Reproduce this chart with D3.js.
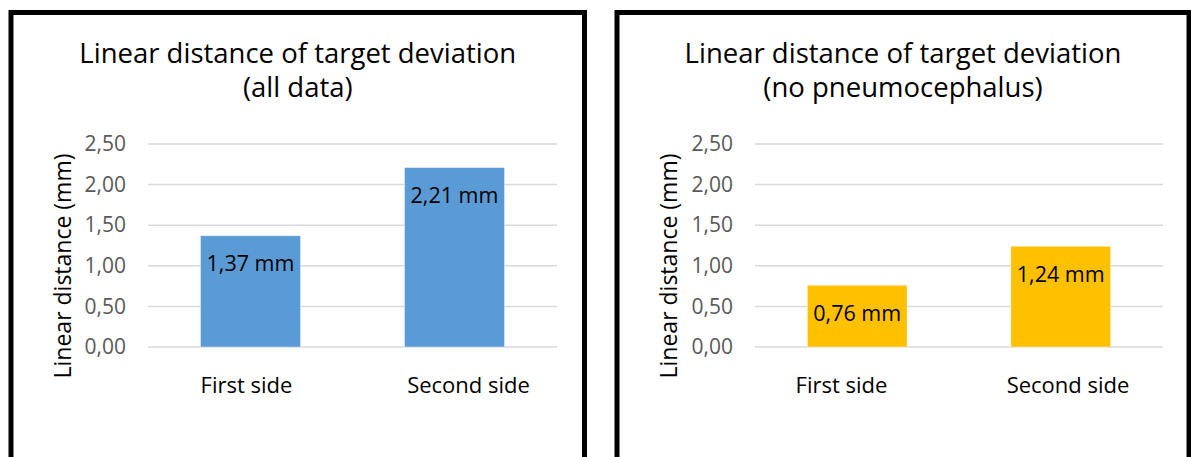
<!DOCTYPE html>
<html>
<head>
<meta charset="utf-8">
<script src="https://cdn.jsdelivr.net/npm/d3@7"></script>
<style>
  html, body { margin: 0; padding: 0; background: #ffffff; }
  svg { display: block; }
  text { font-family: "Open Sans", "Noto Sans", sans-serif; }
</style>
</head>
<body>
<svg id="chart" width="1191" height="457"></svg>
<script>
// Mean linear target deviation per side (mm)
const categories = ["First side", "Second side"];
const allDataValues = [1.37, 2.21];
const noPneumoValues = [0.76, 1.24];
const yTickValues = [0, 0.5, 1, 1.5, 2, 2.5];
const titleAll = ["Linear distance of target deviation", "(all data)"];
const titleNoPneumo = ["Linear distance of target deviation", "(no pneumocephalus)"];
const yAxisTitle = "Linear distance (mm)";

// Panel layout (pixels)
const panels = [
  { box: [11, 12.5, 573.5, 470], plot: [148, 557], cats: [246.5, 468.5],
    title: titleAll, values: allDataValues, color: "#5B9BD5" },
  { box: [617, 12.5, 572, 470], plot: [755, 1163], cats: [841.5, 1068],
    title: titleNoPneumo, values: noPneumoValues, color: "#FFC000" }
];
const plotTop = 144, plotBottom = 347;

const decimalComma = s => s.replace(".", ",");
const fmtTick = v => decimalComma(d3.format(".2f")(v));
const fmtLabel = v => decimalComma(d3.format(".2f")(v)) + " mm";

const svg = d3.select("#chart");
svg.append("rect").attr("width", 1191).attr("height", 457).attr("fill", "#ffffff");

const y = d3.scaleLinear().domain([0, 2.5]).range([plotBottom, plotTop]);

panels.forEach(p => {
  const g = svg.append("g");
  const [bx, by, bw, bh] = p.box;

  // frame
  g.append("rect")
    .attr("x", bx).attr("y", by).attr("width", bw).attr("height", bh)
    .attr("fill", "#ffffff").attr("stroke", "#000000").attr("stroke-width", 5);

  const x = d3.scaleBand().domain(categories).range(p.plot)
    .paddingInner(0.51).paddingOuter(0.2575);
  const xLabel = d3.scalePoint().domain(categories).range(p.cats);

  // two-line title
  const cx = bx + bw / 2;
  g.append("g").selectAll("text").data(p.title).join("text")
    .attr("x", cx).attr("y", (d, i) => 63 + i * 34)
    .attr("text-anchor", "middle")
    .attr("font-size", 27.5).attr("fill", "#000000")
    .text(d => d);

  // gridlines
  g.append("g").selectAll("line").data(yTickValues).join("line")
    .attr("x1", p.plot[0]).attr("x2", p.plot[1])
    .attr("y1", d => y(d)).attr("y2", d => y(d))
    .attr("stroke", "#d9d9d9").attr("stroke-width", 1.5);

  // y axis labels
  const yAxis = d3.axisLeft(y).tickValues(yTickValues).tickFormat(fmtTick)
    .tickSize(0).tickPadding(22);
  const ya = g.append("g").attr("transform", `translate(${p.plot[0]},0)`).call(yAxis);
  ya.select(".domain").remove();
  ya.selectAll("text")
    .attr("font-family", "'Open Sans', 'Noto Sans', sans-serif")
    .attr("font-size", 21).attr("fill", "#595959");

  // y axis title (baseline on the right of the rotated text)
  g.append("text")
    .attr("transform", `translate(${bx + 60},266) rotate(-90)`)
    .attr("text-anchor", "middle")
    .attr("font-size", 23).attr("fill", "#000000")
    .text(yAxisTitle);

  // bars
  g.append("g").selectAll("rect").data(p.values).join("rect")
    .attr("x", (d, i) => x(categories[i]))
    .attr("width", x.bandwidth())
    .attr("y", d => y(d))
    .attr("height", d => y(0) - y(d))
    .attr("fill", p.color)
    .attr("stroke", "#ffffff").attr("stroke-opacity", 0.5).attr("stroke-width", 0.75);

  // value labels inside the bar end
  g.append("g").selectAll("text").data(p.values).join("text")
    .attr("x", (d, i) => x(categories[i]) + x.bandwidth() / 2)
    .attr("y", d => y(d) + 35.5)
    .attr("text-anchor", "middle")
    .attr("font-size", 21.5).attr("fill", "#000000")
    .text(d => fmtLabel(d));

  // category labels
  g.append("g").selectAll("text").data(categories).join("text")
    .attr("x", d => xLabel(d))
    .attr("y", 393)
    .attr("text-anchor", "middle")
    .attr("font-size", 22).attr("fill", "#000000")
    .text(d => d);
});
</script>
</body>
</html>
